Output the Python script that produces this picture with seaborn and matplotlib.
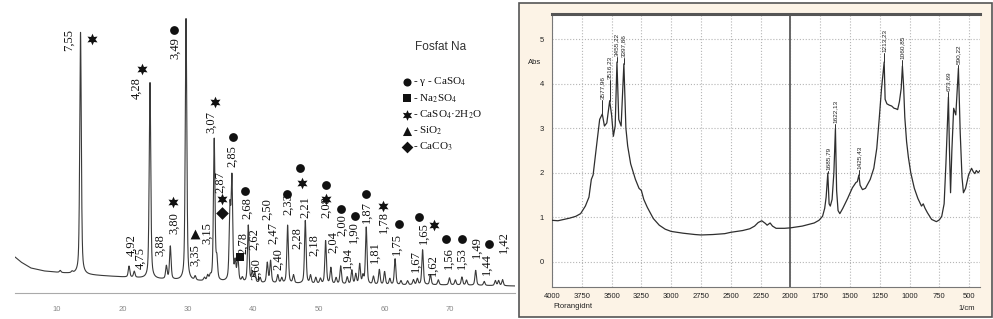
import numpy as np
import pandas as pd
import matplotlib
matplotlib.use('Agg')
import matplotlib.pyplot as plt
import seaborn as sns
from matplotlib.patches import Rectangle
from matplotlib.ticker import MultipleLocator

# ---------------- XRD data (2-theta, Co radiation) ----------------
peak_2theta = [13.6, 21.0, 21.8, 24.2, 26.7, 27.3, 29.7, 31.1, 33.0, 34.0, 34.4,
               36.4, 36.7, 37.2, 37.6, 39.2, 39.8, 40.2, 42.1, 42.6, 43.7, 45.2,
               46.1, 47.9, 48.7, 51.0, 51.8, 53.3, 55.0, 55.6, 56.2, 57.2, 59.2,
               60.0, 61.6, 65.0, 65.8, 67.0, 69.9, 71.8, 73.9, 76.9, 78.0,
               10.5, 12.3, 32.5, 33.4, 38.3, 41.0, 44.3, 49.5, 50.2, 52.6, 54.3,
               56.7, 58.3, 60.8, 62.5, 63.5, 64.4, 68.2, 70.8, 72.5, 75.2, 77.4]
peak_height = [242, 11, 6, 196, 13, 33, 262, 4, 5, 142, 20,
               70, 100, 18, 24, 57, 10, 9, 20, 22, 8, 58,
               8, 63, 8, 43, 16, 18, 14, 10, 20, 57, 15,
               13, 26, 6, 35, 10, 7, 8, 15, 5, 6,
               2, 1.5, 3, 4, 4, 5, 5, 6, 5, 6, 7,
               8, 8, 6, 4, 4, 5, 5, 5, 5, 4, 5]
bg_2theta = [3.6, 4.5, 6, 8, 11, 15, 20, 25, 30, 40, 50, 60, 70, 79.9]
bg_level = [36, 31, 25, 22, 20, 18, 16, 14, 12, 10, 9, 8, 8, 7]

d_labels = ['7,55', '4,92', '4,75', '4,28', '3,88', '3,80', '3,49', '3,35', '3,15',
            '3,07', '2,87', '2,85', '2,78', '2,68', '2,62', '2,60', '2,50', '2,47',
            '2,40', '2,33', '2,28', '2,21', '2,18', '2,08', '2,04', '2,00', '1,94',
            '1,90', '1,87', '1,81', '1,78', '1,75', '1,67', '1,65', '1,62', '1,56',
            '1,53', '1,49', '1,44', '1,42']

legend_names = ['- \u03b3 - CaSO$_4$', '- Na$_2$SO$_4$', '- CaSO$_4$\u00b72H$_2$O',
                '- SiO$_2$', '- CaCO$_3$']
legend_markers = ['o', 's', (6, 1, 0), '^', 'D']

# ---------------- IR data ----------------
ir_wn = [4000, 3950, 3900, 3850, 3800, 3760, 3720, 3690, 3670, 3655, 3640, 3620,
         3600, 3578, 3560, 3540, 3516, 3500, 3485, 3470, 3455, 3440, 3420, 3397,
         3380, 3365, 3340, 3300, 3270, 3250, 3230, 3200, 3150, 3100, 3050, 3000,
         2900, 2800, 2750, 2650, 2550, 2500, 2400, 2340, 2300, 2270, 2240, 2210,
         2195, 2170, 2150, 2120, 2050, 2000, 1900, 1800, 1760, 1730, 1712, 1700,
         1686, 1675, 1665, 1650, 1635, 1622, 1612, 1600, 1585, 1560, 1520, 1480,
         1450, 1438, 1425, 1415, 1395, 1370, 1330, 1300, 1275, 1255, 1235, 1213,
         1205, 1190, 1170, 1150, 1130, 1115, 1100, 1085, 1070, 1060, 1050, 1040,
         1025, 1010, 990, 960, 930, 900, 885, 870, 850, 815, 775, 750, 730, 710,
         695, 674, 665, 656, 645, 630, 612, 590, 575, 560, 548, 530, 505, 480,
         465, 452, 440, 424, 410]
ir_abs = [0.93, 0.92, 0.95, 0.98, 1.02, 1.08, 1.25, 1.45, 1.85, 1.95, 2.3, 2.75,
          3.2, 3.32, 3.05, 3.12, 3.62, 3.3, 2.82, 3.05, 4.49, 3.2, 3.05, 4.45,
          3.0, 2.6, 2.2, 1.85, 1.65, 1.6, 1.4, 1.22, 0.97, 0.82, 0.73, 0.68,
          0.64, 0.61, 0.6, 0.61, 0.63, 0.66, 0.7, 0.74, 0.8, 0.88, 0.92, 0.86,
          0.82, 0.87, 0.8, 0.75, 0.75, 0.76, 0.8, 0.87, 0.93, 1.02, 1.2, 1.45,
          1.99, 1.3, 1.25, 1.4, 2.0, 3.0, 1.6, 1.15, 1.08, 1.2, 1.42, 1.66,
          1.78, 1.8, 1.95, 1.72, 1.62, 1.65, 1.85, 2.1, 2.55, 3.2, 3.9, 4.49,
          3.65, 3.55, 3.52, 3.5, 3.45, 3.44, 3.42, 3.6, 3.9, 4.4, 3.95, 3.25,
          2.7, 2.35, 2.0, 1.65, 1.42, 1.25, 1.3, 1.2, 1.1, 0.95, 0.9, 0.94, 1.02, 1.3,
          2.2, 3.7, 2.5, 1.55, 2.5, 3.45, 3.3, 4.35, 2.9, 1.9, 1.55, 1.65, 1.95, 2.1,
          2.02, 1.98, 2.05, 2.0, 2.05]
ir_labels = ['3577,96', '3516,23', '3455,22', '3397,86', '1685,79', '1622,13',
             '1425,43', '1213,23', '1060,85', '673,69', '590,22']
ir_label_wn = [3578, 3516, 3455, 3397, 1686, 1622, 1425, 1213, 1060, 674, 590]

# ---------------- layout (annotation placement) ----------------
label_xy = [(11.8, 253), (21.3, 48), (22.8, 35), (22.1, 205), (25.7, 48), (27.9, 70),
            (28.0, 245), (31.1, 38), (32.9, 60), (33.5, 171), (34.9, 111), (36.7, 137),
            (38.4, 50), (39.0, 85), (40.1, 54), (40.4, 24), (42.1, 84), (43.0, 60),
            (43.7, 34), (45.3, 89), (46.6, 55), (47.9, 86), (49.2, 48), (51.1, 86),
            (52.1, 51), (53.5, 68), (54.3, 35), (55.3, 61), (57.3, 81), (58.5, 41),
            (59.8, 71), (61.9, 49), (64.7, 32), (65.9, 60), (67.3, 28), (69.7, 35),
            (71.8, 35), (74.0, 46), (75.6, 29), (78.1, 51)]
# phase index (0 circle, 1 square, 2 star, 3 triangle, 4 diamond) and position
phase_marks = [(2, 15.3, 254), (2, 23.0, 224), (0, 27.9, 263), (2, 27.7, 91),
               (3, 31.1, 59), (2, 34.1, 191), (0, 36.9, 156), (2, 35.2, 94),
               (4, 35.2, 80), (0, 38.7, 102), (1, 37.9, 36), (0, 45.1, 99),
               (0, 47.1, 125), (2, 47.4, 110), (0, 51.1, 108), (2, 51.1, 94),
               (0, 53.4, 84), (0, 55.5, 77), (0, 57.2, 99), (2, 59.8, 87),
               (0, 62.2, 69), (0, 65.3, 76), (2, 67.6, 68), (0, 69.4, 54),
               (0, 71.8, 54), (0, 76.0, 49)]
marker_size = [40, 36, 70, 50, 42]
ir_label_bottom = [3.63, 4.08, 4.6, 4.58, 2.05, 3.1, 2.06, 4.69, 4.53, 3.82, 4.42]

sns.set_style('white')
plt.rcParams['font.family'] = ['Liberation Sans', 'DejaVu Sans']
plt.rcParams['mathtext.fontset'] = 'stix'
serif = ['Liberation Serif', 'DejaVu Serif']

W, H = 993, 319
fig = plt.figure(figsize=(W / 100, H / 100), dpi=100)

# ---------------- left: XRD pattern ----------------
tt = np.linspace(3.6, 79.9, 7000)
prof = np.interp(tt, bg_2theta, bg_level)
fw = 0.28
for p, h in zip(peak_2theta, peak_height):
    g = np.exp(-4 * np.log(2) * ((tt - p) / fw) ** 2)
    lz = 1 / (1 + 4 * ((tt - p) / fw) ** 2)
    prof = prof + h * (0.5 * g + 0.5 * lz)
xrd = pd.DataFrame({'two_theta': tt, 'intensity': prof})

ax1 = fig.add_axes([15 / W, (H - 293) / H, 500 / W, 293 / H])
sns.lineplot(data=xrd, x='two_theta', y='intensity', ax=ax1, color='#3a3a3a',
             lw=0.8, estimator=None, sort=False)
ax1.set_xlim(3.6, 79.9)
ax1.set_ylim(0, 293)
ax1.set_xlabel('')
ax1.set_ylabel('')
ax1.set_yticks([])
for s in ['top', 'left', 'right']:
    ax1.spines[s].set_visible(False)
ax1.spines['bottom'].set_color('#aaaaaa')
ax1.spines['bottom'].set_linewidth(0.8)
ax1.set_xticks(range(10, 80, 10))
ax1.xaxis.set_minor_locator(MultipleLocator(1))
ax1.tick_params(axis='x', which='major', direction='inout', length=7, width=0.8,
                color='#999999', labelsize=5.5, labelcolor='#888888', pad=6)
ax1.tick_params(axis='x', which='minor', direction='inout', length=4, width=0.6,
                color='#aaaaaa')

for lab, (x, y) in zip(d_labels, label_xy):
    ax1.text(x, y, lab, rotation=90, ha='center', va='center', fontsize=9,
             family=serif, color='#111111')

for k, x, y in phase_marks:
    ax1.scatter([x], [y], marker=legend_markers[k], s=marker_size[k], color='#111111',
                linewidths=0, zorder=5)

ax1.text(64.7, 246, 'Fosfat Na', fontsize=8.5, color='#333333', ha='left', va='center')
for i, (name, mk) in enumerate(zip(legend_names, legend_markers)):
    y = 211 - i * 16.3
    ax1.scatter([63.4], [y], marker=mk, s=marker_size[i] * 0.85, color='#111111',
                linewidths=0, zorder=5)
    ax1.text(64.3, y, name, fontsize=8, family=serif, ha='left', va='center',
             color='#111111')

# ---------------- right: IR spectrum ----------------
fig.add_artist(Rectangle((519 / W, 2 / H), (W - 520) / W, 314 / H,
                         transform=fig.transFigure, facecolor='#fcf3e6',
                         edgecolor='#555555', lw=1.2, zorder=-1))

ir = pd.DataFrame({'wn': ir_wn, 'absorb': ir_abs})
ax2 = fig.add_axes([552 / W, (H - 287) / H, 428 / W, 273 / H])
ax2.set_facecolor('white')
ax2.grid(True, which='major', linestyle=':', color='#b5b5b5', lw=0.8)
ax2.axvline(2000, color='#666666', lw=1.4, zorder=1)
sns.lineplot(data=ir, x='wn', y='absorb', ax=ax2, color='#2e2e2e', lw=0.9,
             estimator=None, sort=False, zorder=3)
ax2.set_xlim(4000, 409)
ax2.set_ylim(-0.57, 5.57)
ax2.set_xlabel('')
ax2.set_ylabel('')
ax2.xaxis.set_major_locator(MultipleLocator(250))
ax2.xaxis.set_minor_locator(MultipleLocator(50))
ax2.yaxis.set_major_locator(MultipleLocator(1))
ax2.yaxis.set_minor_locator(MultipleLocator(0.2))
ax2.tick_params(axis='x', which='major', direction='in', length=5, width=0.8,
                color='#555555', labelsize=5.5, labelcolor='#222222', pad=4)
ax2.tick_params(axis='x', which='minor', direction='in', length=3, width=0.6,
                color='#555555')
ax2.tick_params(axis='y', which='major', direction='out', length=4, width=0.8,
                color='#555555', labelsize=5.5, labelcolor='#222222', pad=2)
ax2.tick_params(axis='y', which='minor', direction='out', length=2, width=0.6,
                color='#555555')
ax2.spines['right'].set_visible(False)
ax2.spines['top'].set_color('#555555')
ax2.spines['top'].set_linewidth(2.2)
for s in ['left', 'bottom']:
    ax2.spines[s].set_color('#777777')
    ax2.spines[s].set_linewidth(0.8)

abs_at = dict(zip(ir_wn, ir_abs))
for lab, wn, yb in zip(ir_labels, ir_label_wn, ir_label_bottom):
    yp = abs_at[wn]
    if yb > yp:
        ax2.plot([wn, wn], [yp, yb], color='#2e2e2e', lw=0.7, zorder=3)
    ax2.text(wn, yb + 0.02, lab, rotation=90, ha='center', va='bottom', fontsize=4.6,
             color='#222222')

fig.text(535 / W, 1 - 62 / H, 'Abs', fontsize=5.5, ha='center', va='center',
         color='#222222')
fig.text(553 / W, 1 - 307 / H, 'Ftorangidnt', fontsize=5.5, ha='left', va='center',
         color='#222222')
fig.text(975 / W, 1 - 308 / H, '1/cm', fontsize=5.5, ha='right', va='center',
         color='#222222')

fig.savefig('out.png', dpi=100)
